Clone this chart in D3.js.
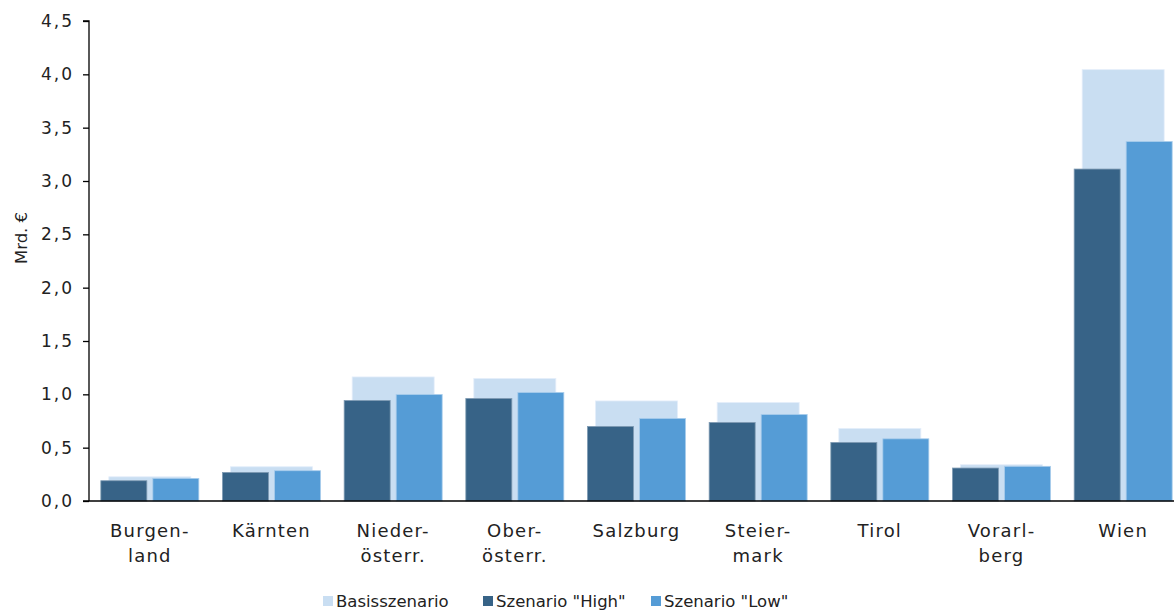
<!DOCTYPE html>
<html><head><meta charset="utf-8">
<script src="https://cdn.jsdelivr.net/npm/d3@7"></script>
<style>body{margin:0;background:#fff}svg{display:block}text{font-family:"DejaVu Sans",sans-serif;fill:#222}</style>
</head><body><svg id="c" width="1174" height="612"></svg>
<script>
const categories = [["Burgen-","land"],["Kärnten"],["Nieder-","österr."],["Ober-","österr."],["Salzburg"],["Steier-","mark"],["Tirol"],["Vorarl-","berg"],["Wien"]];
const basis = [0.227,0.321,1.163,1.148,0.938,0.923,0.680,0.340,4.044];
const high  = [0.190,0.268,0.942,0.961,0.699,0.736,0.549,0.309,3.112];
const low   = [0.212,0.284,0.998,1.017,0.774,0.811,0.583,0.325,3.370];
const yTicks = [0,0.5,1,1.5,2,2.5,3,3.5,4,4.5];
const seriesNames = ["Basisszenario",'Szenario "High"','Szenario "Low"'];
const colors = ["#C9DEF2","#376387","#559CD6"];

const svg = d3.select("#c");
const x0 = 89, x1 = 1184, yTop = 21, yBot = 501;
const x = d3.scaleBand().domain(d3.range(categories.length)).range([x0,x1]).padding(0);
const y = d3.scaleLinear().domain([0,4.5]).range([yBot,yTop]);

// bars
const g = svg.append("g");
const bw = x.bandwidth();
const cx = i => x(i) + bw/2;
g.selectAll(".b").data(basis).join("rect")
  .attr("x",(d,i)=>cx(i)-41).attr("width",82)
  .attr("y",d=>y(d)).attr("height",d=>y(0)-y(d))
  .attr("fill",colors[0]).attr("stroke","#e4eefa").attr("stroke-width",0.8);
g.selectAll(".h").data(high).join("rect")
  .attr("x",(d,i)=>cx(i)-49).attr("width",46)
  .attr("y",d=>y(d)).attr("height",d=>y(0)-y(d))
  .attr("fill",colors[1]).attr("stroke","#7f9bb3").attr("stroke-width",0.8);
g.selectAll(".l").data(low).join("rect")
  .attr("x",(d,i)=>cx(i)+3).attr("width",46)
  .attr("y",d=>y(d)).attr("height",d=>y(0)-y(d))
  .attr("fill",colors[2]).attr("stroke","#a9cdec").attr("stroke-width",0.8);

// y axis
const fmt = d => d3.format(".1f")(d).replace(".",",");
const ya = svg.append("g").attr("transform",`translate(${x0},0)`)
  .call(d3.axisLeft(y).tickValues(yTicks).tickFormat(fmt).tickSize(6).tickPadding(9));
ya.select(".domain").attr("stroke","#000").attr("stroke-width",1.3).attr("d",`M-6,${yTop}H0V${yBot}`);
ya.selectAll(".tick line").attr("stroke","#000").attr("stroke-width",1.3);
ya.selectAll("text").style("font-size","17px").style("letter-spacing","2px").attr("fill","#222").style("font-family",'"DejaVu Sans",sans-serif');

// x axis
const xa = svg.append("g").attr("transform",`translate(0,${yBot})`)
  .call(d3.axisBottom(x).tickSize(0).tickFormat(""));
xa.select(".domain").attr("stroke","#000").attr("stroke-width",1.3).attr("d",`M${x0-6},0H${x1}`);
categories.forEach((lines,i)=>{
  const t = svg.append("text").attr("x",cx(i)).attr("y",537).attr("text-anchor","middle")
    .style("font-size","18px").style("letter-spacing","1.2px");
  lines.forEach((s,k)=>t.append("tspan").attr("x",cx(i)).attr("dy",k?25:0).text(s));
});

// y title
svg.append("text").attr("transform","translate(27,238) rotate(-90)").attr("text-anchor","middle")
  .style("font-size","16.5px").text("Mrd. €");

// legend
const lx = [323,483,651];
seriesNames.forEach((n,i)=>{
  svg.append("rect").attr("x",lx[i]).attr("y",596).attr("width",10).attr("height",10).attr("fill",colors[i]);
  svg.append("text").attr("x",lx[i]+13).attr("y",607).style("font-size","16.5px").text(n);
});
</script></body></html>
